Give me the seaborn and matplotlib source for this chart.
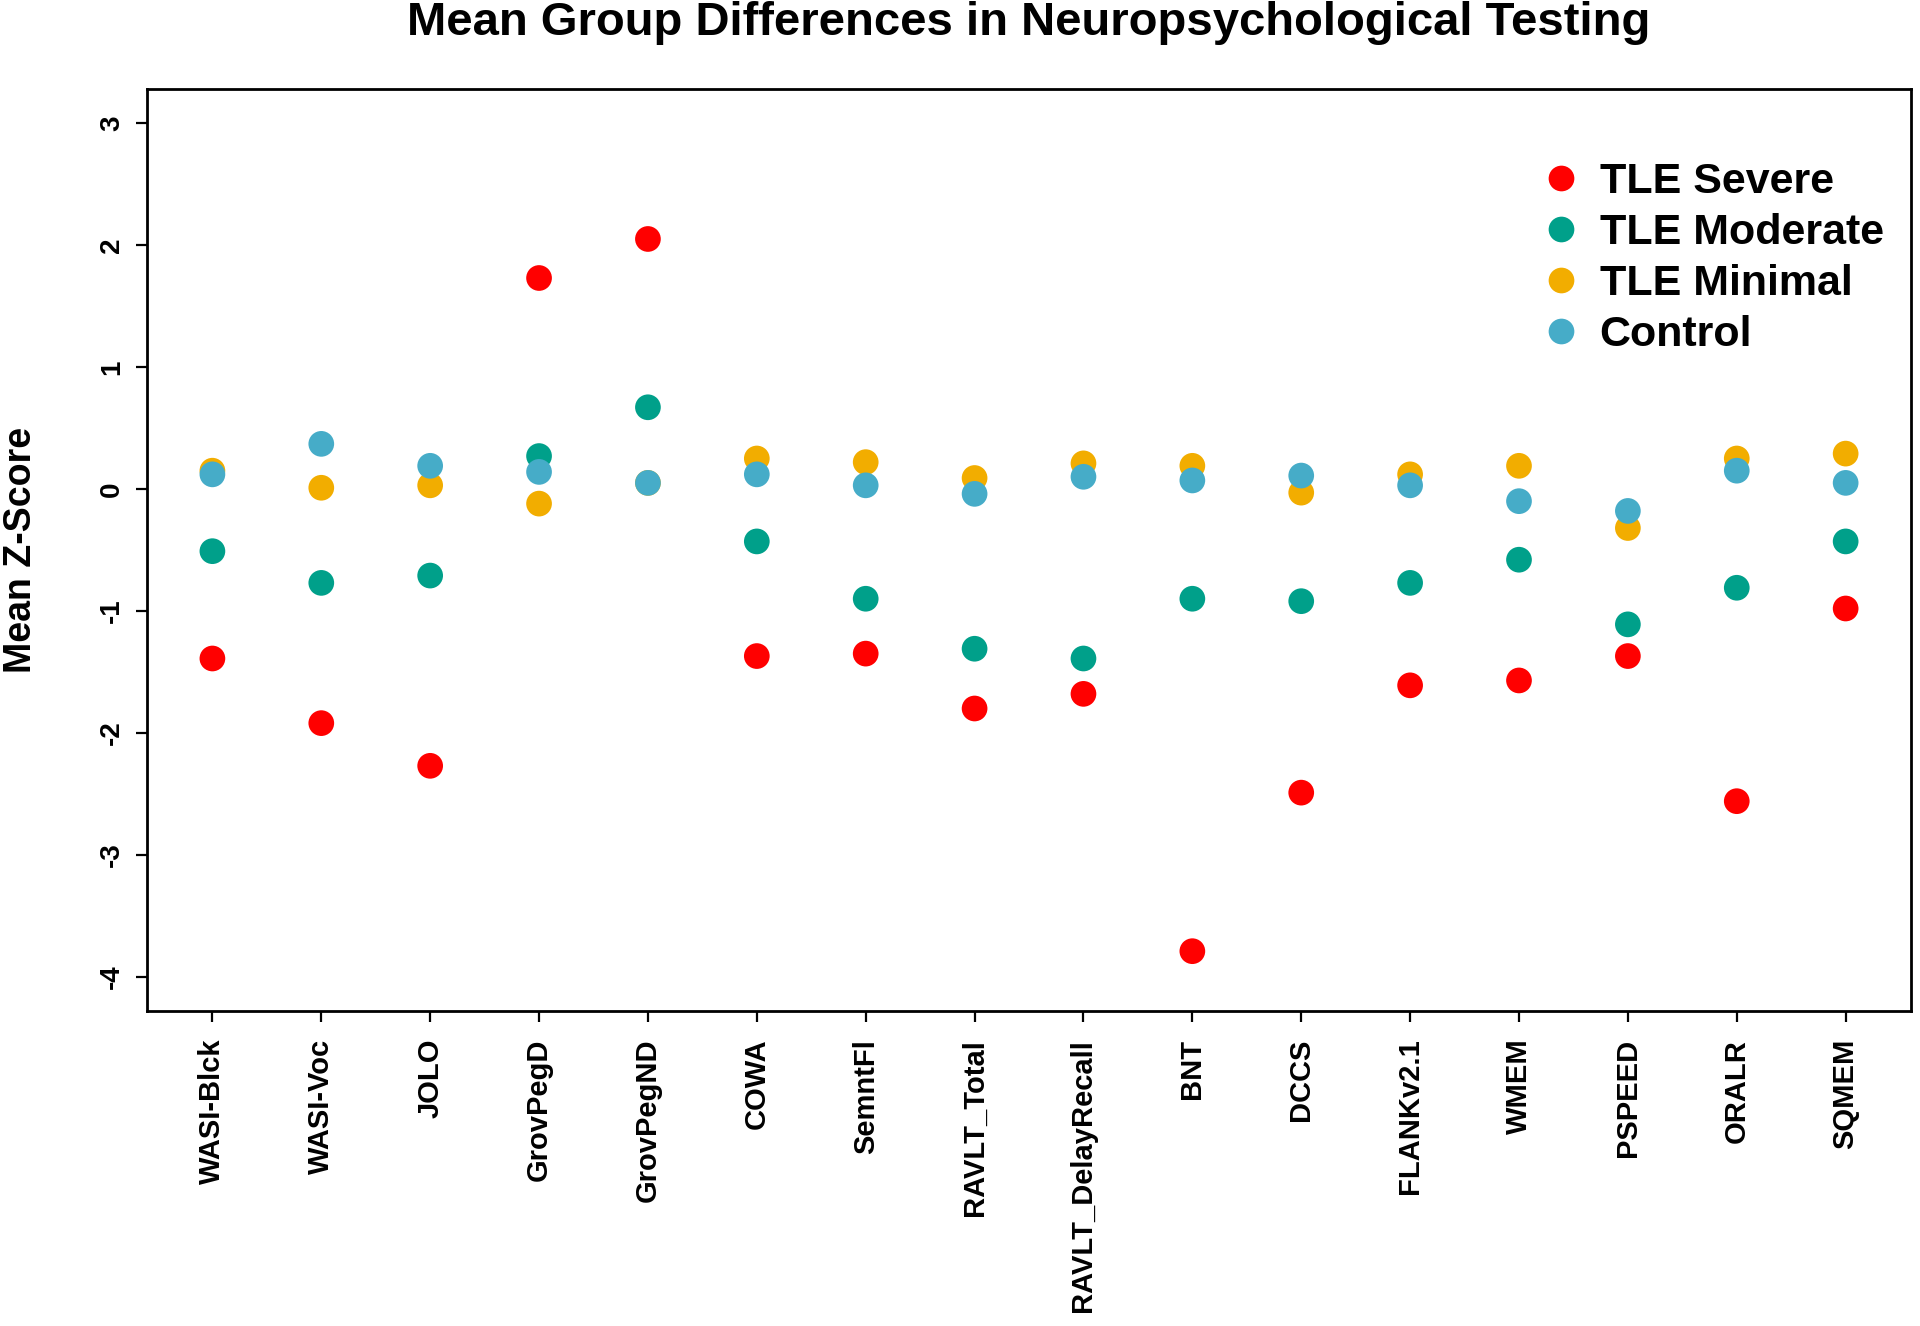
import pandas as pd
import numpy as np
import seaborn as sns
import matplotlib.pyplot as plt

# ---------------------------------------------------------------------------
# Data (mean z-scores)
# ---------------------------------------------------------------------------
tests = ["WASI-Blck", "WASI-Voc", "JOLO", "GrovPegD", "GrovPegND", "COWA",
         "SemntFl", "RAVLT_Total", "RAVLT_DelayRecall", "BNT", "DCCS",
         "FLANKv2.1", "WMEM", "PSPEED", "ORALR", "SQMEM"]

tle_severe = [-1.39, -1.92, -2.27, 1.73, 2.05, -1.37, -1.35, -1.80,
              -1.68, -3.79, -2.49, -1.61, -1.57, -1.37, -2.56, -0.98]
tle_moderate = [-0.51, -0.77, -0.71, 0.27, 0.67, -0.43, -0.90, -1.31,
                -1.39, -0.90, -0.92, -0.77, -0.58, -1.11, -0.81, -0.43]
tle_minimal = [0.15, 0.01, 0.03, -0.12, 0.05, 0.25, 0.22, 0.09,
               0.21, 0.19, -0.03, 0.12, 0.19, -0.32, 0.25, 0.29]
control = [0.12, 0.37, 0.19, 0.14, 0.05, 0.12, 0.03, -0.04,
           0.10, 0.07, 0.11, 0.03, -0.10, -0.18, 0.15, 0.05]

groups = ["TLE Severe", "TLE Moderate", "TLE Minimal", "Control"]
group_colors = ["#FF0000", "#00A08A", "#F2AD00", "#46ACC8"]

df = pd.concat([
    pd.DataFrame({"test": tests, "z": vals, "group": g})
    for g, vals in zip(groups, [tle_severe, tle_moderate, tle_minimal, control])
], ignore_index=True)

# ---------------------------------------------------------------------------
# Plot
# ---------------------------------------------------------------------------
sns.set_style("white")
plt.rcParams["font.family"] = ["Liberation Sans", "DejaVu Sans"]
plt.rcParams["text.color"] = "black"
plt.rcParams["xtick.color"] = "black"
plt.rcParams["ytick.color"] = "black"
plt.rcParams["axes.labelcolor"] = "black"

fig = plt.figure(figsize=(19.2, 13.26), dpi=100)
ax = fig.add_axes([0.0766, 0.2376, 0.9187, 0.6953])

sns.stripplot(data=df, x="test", y="z", hue="group", hue_order=groups,
              palette=dict(zip(groups, group_colors)), jitter=False,
              dodge=False, size=18.5, linewidth=0, ax=ax, order=tests)

ax.set_xlim(-0.6, 15.6)
ax.set_ylim(-4.28, 3.28)
ax.set_yticks([-4, -3, -2, -1, 0, 1, 2, 3])
ax.set_yticklabels(["-4", "-3", "-2", "-1", "0", "1", "2", "3"],
                   rotation=90, va="center", fontsize=20, fontweight="bold")
ax.set_xticks(range(len(tests)))
ax.set_xticklabels(tests, rotation=90, fontsize=21, fontweight="bold",
                   va="top", ha="center")
ax.tick_params(axis="both", direction="out", length=8, width=1.6,
               color="black", labelcolor="black", bottom=True, left=True)
ax.tick_params(axis="x", pad=12)
ax.tick_params(axis="y", pad=8)

for sp in ax.spines.values():
    sp.set_visible(True)
    sp.set_color("black")
    sp.set_linewidth(2)

ax.set_xlabel("")
ax.set_ylabel("Mean Z-Score", fontsize=27, fontweight="bold", color="black")
ax.yaxis.set_label_coords(-0.061, 0.5)

fig.text(0.536, 0.983, "Mean Group Differences in Neuropsychological Testing",
         ha="center", va="center", fontsize=34, fontweight="bold",
         color="black")

handles, labels = ax.get_legend_handles_labels()
leg = ax.legend(handles, labels, loc="upper left",
                bbox_to_anchor=(0.7905, 0.891),
                bbox_transform=fig.transFigure, frameon=False,
                prop={"size": 31, "weight": "bold"}, handletextpad=0.3,
                labelspacing=0.26, markerscale=1.0, handlelength=1.2,
                borderaxespad=0)
for t in leg.get_texts():
    t.set_color("black")

fig.savefig("out.png", dpi=100)
